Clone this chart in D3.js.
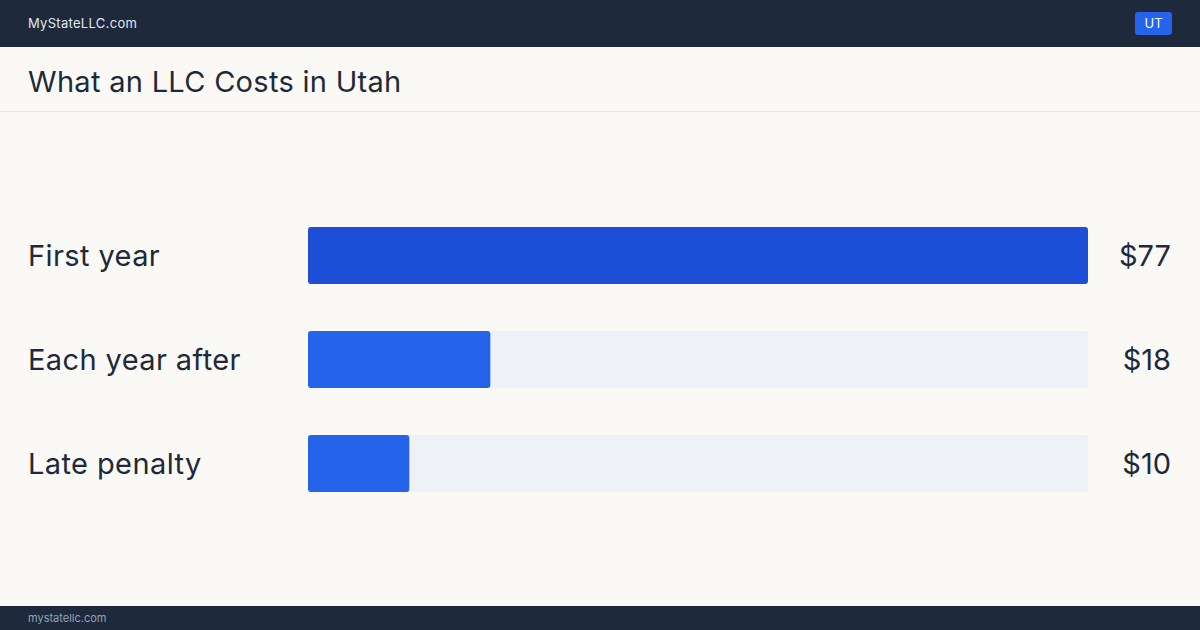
<!DOCTYPE html>
<html><head><meta charset="utf-8">
<script src="https://cdn.jsdelivr.net/npm/d3@7"></script>
<style>body{margin:0;background:#faf9f5;font-family:Inter,"Noto Sans",sans-serif}</style>
</head><body><div id="chart"></div>
<script>
let categories = ['First year', 'Each year after', 'Late penalty'];
let values = [77, 18, 10];
let valueLabels = ['$77', '$18', '$10'];

let W = 1200, H = 630;
let svg = d3.select('#chart').append('svg').attr('width', W).attr('height', H);
svg.append('rect').attr('width', W).attr('height', H).attr('fill', '#faf9f5');

// header
svg.append('rect').attr('width', W).attr('height', 47).attr('fill', '#1e293b');
svg.append('text').attr('x', 28).attr('y', 28).attr('fill', '#e2e8f0')
	.attr('font-size', 13).attr('letter-spacing', 0.3).text('MyStateLLC.com');
svg.append('rect').attr('x', 1135).attr('y', 12).attr('width', 37).attr('height', 23)
	.attr('rx', 3).attr('fill', '#2563eb');
svg.append('text').attr('x', 1153.5).attr('y', 28).attr('text-anchor', 'middle')
	.attr('fill', '#fff').attr('font-size', 13).text('UT');

// title
svg.append('text').attr('x', 28).attr('y', 92).attr('fill', '#1e293b')
	.attr('font-size', 29).attr('letter-spacing', 0.3).text('What an LLC Costs in Utah');
svg.append('line').attr('x1', 0).attr('x2', W).attr('y1', 111.5).attr('y2', 111.5)
	.attr('stroke', '#e2e8f0');

// footer
svg.append('rect').attr('y', 606).attr('width', W).attr('height', 24).attr('fill', '#1e293b');
svg.append('text').attr('x', 28).attr('y', 622).attr('fill', '#94a3b8')
	.attr('font-size', 11).text('mystatellc.com');

let x = d3.scaleLinear().domain([0, d3.max(values)]).range([308, 1088]);
let y = d3.scaleBand().domain(categories).range([227, 492]).paddingInner(47 / 104).paddingOuter(0);

let row = svg.selectAll('.row').data(categories).enter().append('g').attr('class', 'row');
row.append('rect').attr('x', x(0)).attr('y', d => y(d)).attr('width', x.range()[1] - x(0))
	.attr('height', y.bandwidth()).attr('rx', 3).attr('fill', '#eef2f7');
row.append('rect').attr('x', x(0)).attr('y', d => y(d))
	.attr('width', (d, i) => x(values[i]) - x(0)).attr('height', y.bandwidth()).attr('rx', 3)
	.attr('fill', (d, i) => i === 0 ? '#1d4ed8' : '#2563eb');
row.append('text').attr('x', 28).attr('y', d => y(d) + y.bandwidth() / 2).attr('dy', '0.35em')
	.attr('font-size', 29).attr('letter-spacing', 0.4).attr('fill', '#1e293b').text(d => d);
row.append('text').attr('x', 1171).attr('y', d => y(d) + y.bandwidth() / 2).attr('dy', '0.35em')
	.attr('text-anchor', 'end').attr('font-size', 29).attr('fill', '#1e293b')
	.text((d, i) => valueLabels[i]);
</script></body></html>
